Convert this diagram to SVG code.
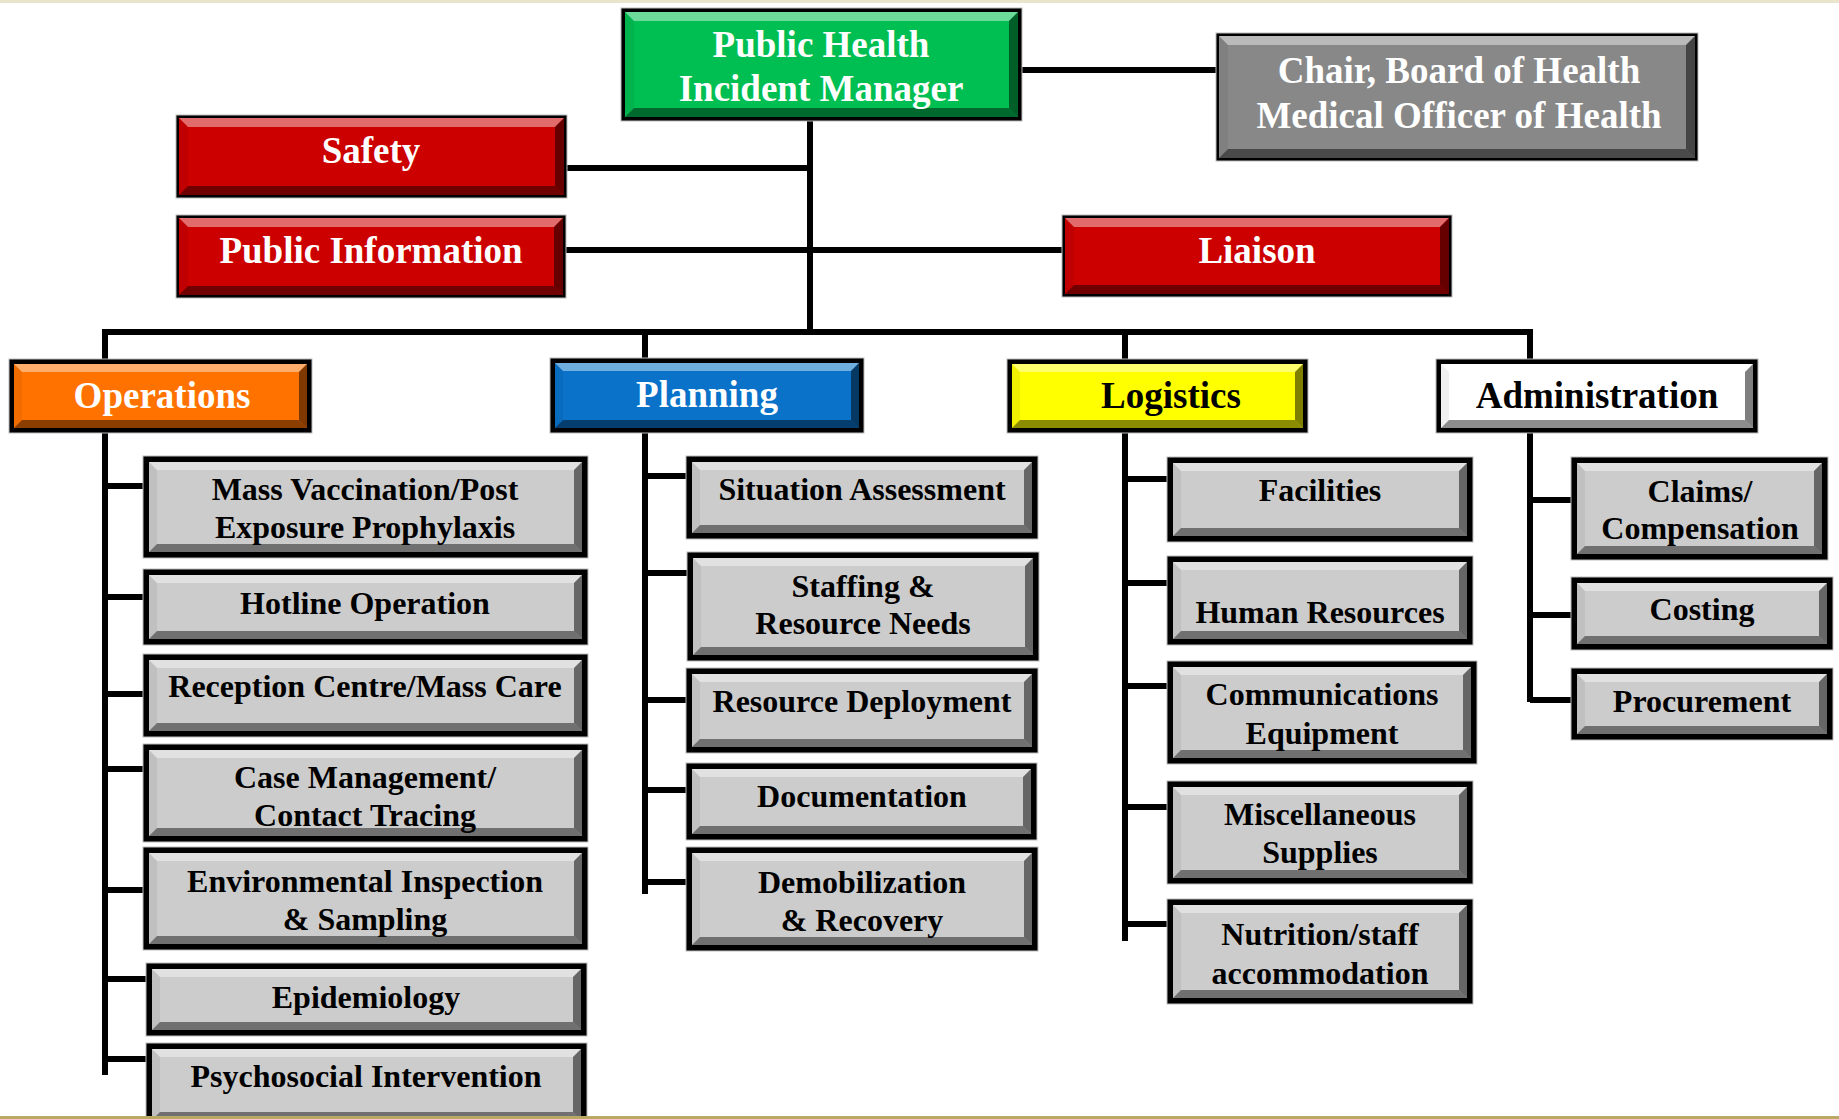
<svg xmlns="http://www.w3.org/2000/svg" width="1839" height="1119" viewBox="0 0 1839 1119">
<style>
.frame{fill:#000;stroke:#bdbdbd;stroke-width:1}
.hl{fill:#fff;fill-opacity:.42}
.sh{fill:#000;fill-opacity:.45}
.sr{fill:#000;fill-opacity:.5}
.sl{fill:#000;fill-opacity:.06}
.gray{fill:#cccccc}
.green{fill:#00bf52}
.red{fill:#cd0000}
.orange{fill:#ff7200}
.blue{fill:#0a72c9}
.yellow{fill:#ffff00}
.white{fill:#ffffff}
.chair{fill:#888888}
.t{font-family:"Liberation Serif","Times New Roman",serif;font-weight:bold;text-anchor:middle}
.h{font-size:37px;fill:#fff}
.hb{font-size:37px;fill:#000}
.c{font-size:32px;fill:#000}
.ln{fill:none;stroke:#000;stroke-width:6;stroke-linejoin:miter;stroke-linecap:butt}
</style>
<rect x="0" y="0" width="1839" height="1119" fill="#fff"/>
<rect x="0" y="0" width="1839" height="3" fill="#e9e4cc"/>

<g id="connectors">
<path class="ln" d="M1022,70 H1216"/>
<path class="ln" d="M567,168 H810"/>
<path class="ln" d="M566,250 H1062"/>
<path class="ln" d="M810,121 V332"/>
<path class="ln" d="M105,360 V332 H1530 V360"/>
<path class="ln" d="M645,332 V359"/>
<path class="ln" d="M1125,332 V360"/>
<path class="ln" d="M105,432 V1075"/>
<path class="ln" d="M105,486 H144 M105,597 H144 M105,694 H144 M105,769 H144 M105,890 H144 M105,979 H147 M105,1059 H147"/>
<path class="ln" d="M645,432 V894"/>
<path class="ln" d="M645,476 H687 M645,573 H688 M645,700 H687 M645,790 H687 M645,882 H687"/>
<path class="ln" d="M1125,432 V941"/>
<path class="ln" d="M1125,479 H1168 M1125,583 H1168 M1125,686 H1168 M1125,807 H1168 M1125,924 H1168"/>
<path class="ln" d="M1530,432 V702"/>
<path class="ln" d="M1530,500 H1572 M1530,615 H1572 M1530,700 H1572"/>
</g>

<g id="incident-manager">
<rect class="frame" x="621" y="8" width="401" height="113"/>
<rect class="green" x="625" y="12" width="393" height="105"/>
<polygon class="hl" points="625,12 1018,12 1009,21 634,21"/>
<polygon class="sh" points="625,117 1018,117 1009,108 634,108"/>
<polygon class="sl" points="625,12 634,21 634,108 625,117"/>
<polygon class="sr" points="1018,12 1009,21 1009,108 1018,117"/>
<text class="t h" x="821" y="57">Public Health</text>
<text class="t h" x="821" y="101">Incident Manager</text>
</g>

<g id="chair">
<rect class="frame" x="1216" y="33" width="482" height="128"/>
<rect class="chair" x="1219" y="36" width="476" height="122"/>
<polygon class="hl" points="1219,36 1695,36 1686,45 1228,45"/>
<polygon class="sh" points="1219,158 1695,158 1686,149 1228,149"/>
<polygon class="sl" points="1219,36 1228,45 1228,149 1219,158"/>
<polygon class="sr" points="1695,36 1686,45 1686,149 1695,158"/>
<text class="t h" x="1459" y="83">Chair, Board of Health</text>
<text class="t h" x="1459" y="128">Medical Officer of Health</text>
</g>

<g id="safety">
<rect class="frame" x="176" y="115" width="391" height="83"/>
<rect class="red" x="179" y="118" width="385" height="77"/>
<polygon class="hl" points="179,118 564,118 555,127 188,127"/>
<polygon class="sh" points="179,195 564,195 555,186 188,186"/>
<polygon class="sl" points="179,118 188,127 188,186 179,195"/>
<polygon class="sr" points="564,118 555,127 555,186 564,195"/>
<text class="t h" x="371" y="163">Safety</text>
</g>

<g id="public-information">
<rect class="frame" x="176" y="215" width="390" height="83"/>
<rect class="red" x="179" y="218" width="384" height="77"/>
<polygon class="hl" points="179,218 563,218 554,227 188,227"/>
<polygon class="sh" points="179,295 563,295 554,286 188,286"/>
<polygon class="sl" points="179,218 188,227 188,286 179,295"/>
<polygon class="sr" points="563,218 554,227 554,286 563,295"/>
<text class="t h" x="371" y="263">Public Information</text>
</g>

<g id="liaison">
<rect class="frame" x="1062" y="215" width="390" height="82"/>
<rect class="red" x="1065" y="218" width="384" height="76"/>
<polygon class="hl" points="1065,218 1449,218 1440,227 1074,227"/>
<polygon class="sh" points="1065,294 1449,294 1440,285 1074,285"/>
<polygon class="sl" points="1065,218 1074,227 1074,285 1065,294"/>
<polygon class="sr" points="1449,218 1440,227 1440,285 1449,294"/>
<text class="t h" x="1257" y="263">Liaison</text>
</g>

<g id="operations">
<rect class="frame" x="9" y="359" width="303" height="74"/>
<rect class="orange" x="14" y="364" width="293" height="64"/>
<polygon class="hl" points="14,364 307,364 299,372 22,372"/>
<polygon class="sh" points="14,428 307,428 299,420 22,420"/>
<polygon class="sl" points="14,364 22,372 22,420 14,428"/>
<polygon class="sr" points="307,364 299,372 299,420 307,428"/>
<text class="t h" x="162" y="408">Operations</text>
</g>

<g id="planning">
<rect class="frame" x="550" y="358" width="314" height="75"/>
<rect class="blue" x="555" y="363" width="304" height="65"/>
<polygon class="hl" points="555,363 859,363 851,371 563,371"/>
<polygon class="sh" points="555,428 859,428 851,420 563,420"/>
<polygon class="sl" points="555,363 563,371 563,420 555,428"/>
<polygon class="sr" points="859,363 851,371 851,420 859,428"/>
<text class="t h" x="707" y="407">Planning</text>
</g>

<g id="logistics">
<rect class="frame" x="1007" y="359" width="301" height="74"/>
<rect class="yellow" x="1012" y="364" width="291" height="64"/>
<polygon class="hl" points="1012,364 1303,364 1295,372 1020,372"/>
<polygon class="sh" points="1012,428 1303,428 1295,420 1020,420"/>
<polygon class="sl" points="1012,364 1020,372 1020,420 1012,428"/>
<polygon class="sr" points="1303,364 1295,372 1295,420 1303,428"/>
<text class="t hb" x="1171" y="408">Logistics</text>
</g>

<g id="administration">
<rect class="frame" x="1436" y="359" width="322" height="74"/>
<rect class="white" x="1441" y="364" width="312" height="64"/>
<polygon class="sh" points="1441,428 1753,428 1745,420 1449,420"/>
<polygon class="sl" points="1441,364 1449,372 1449,420 1441,428"/>
<polygon class="sr" points="1753,364 1745,372 1745,420 1753,428"/>
<text class="t hb" x="1597" y="408">Administration</text>
</g>

<g id="mass-vaccination">
<rect class="frame" x="143" y="456" width="445" height="102"/>
<rect class="gray" x="149" y="462" width="433" height="90"/>
<polygon class="hl" points="149,462 582,462 574,470 157,470"/>
<polygon class="sh" points="149,552 582,552 574,544 157,544"/>
<polygon class="sl" points="149,462 157,470 157,544 149,552"/>
<polygon class="sr" points="582,462 574,470 574,544 582,552"/>
<text class="t c" x="365" y="500">Mass Vaccination/Post</text>
<text class="t c" x="365" y="538">Exposure Prophylaxis</text>
</g>

<g id="hotline">
<rect class="frame" x="143" y="569" width="445" height="76"/>
<rect class="gray" x="149" y="575" width="433" height="64"/>
<polygon class="hl" points="149,575 582,575 574,583 157,583"/>
<polygon class="sh" points="149,639 582,639 574,631 157,631"/>
<polygon class="sl" points="149,575 157,583 157,631 149,639"/>
<polygon class="sr" points="582,575 574,583 574,631 582,639"/>
<text class="t c" x="365" y="614">Hotline Operation</text>
</g>

<g id="reception">
<rect class="frame" x="143" y="654" width="445" height="83"/>
<rect class="gray" x="149" y="660" width="433" height="71"/>
<polygon class="hl" points="149,660 582,660 574,668 157,668"/>
<polygon class="sh" points="149,731 582,731 574,723 157,723"/>
<polygon class="sl" points="149,660 157,668 157,723 149,731"/>
<polygon class="sr" points="582,660 574,668 574,723 582,731"/>
<text class="t c" x="365" y="697">Reception Centre/Mass Care</text>
</g>

<g id="case-management">
<rect class="frame" x="143" y="744" width="445" height="98"/>
<rect class="gray" x="149" y="750" width="433" height="86"/>
<polygon class="hl" points="149,750 582,750 574,758 157,758"/>
<polygon class="sh" points="149,836 582,836 574,828 157,828"/>
<polygon class="sl" points="149,750 157,758 157,828 149,836"/>
<polygon class="sr" points="582,750 574,758 574,828 582,836"/>
<text class="t c" x="365" y="788">Case Management/</text>
<text class="t c" x="365" y="826">Contact Tracing</text>
</g>

<g id="environmental">
<rect class="frame" x="143" y="847" width="445" height="103"/>
<rect class="gray" x="149" y="853" width="433" height="91"/>
<polygon class="hl" points="149,853 582,853 574,861 157,861"/>
<polygon class="sh" points="149,944 582,944 574,936 157,936"/>
<polygon class="sl" points="149,853 157,861 157,936 149,944"/>
<polygon class="sr" points="582,853 574,861 574,936 582,944"/>
<text class="t c" x="365" y="892">Environmental Inspection</text>
<text class="t c" x="365" y="930">&amp; Sampling</text>
</g>

<g id="epidemiology">
<rect class="frame" x="146" y="963" width="441" height="73"/>
<rect class="gray" x="152" y="969" width="429" height="61"/>
<polygon class="hl" points="152,969 581,969 573,977 160,977"/>
<polygon class="sh" points="152,1030 581,1030 573,1022 160,1022"/>
<polygon class="sl" points="152,969 160,977 160,1022 152,1030"/>
<polygon class="sr" points="581,969 573,977 573,1022 581,1030"/>
<text class="t c" x="366" y="1008">Epidemiology</text>
</g>

<g id="psychosocial">
<rect class="frame" x="146" y="1043" width="441" height="82"/>
<rect class="gray" x="152" y="1049" width="429" height="71"/>
<polygon class="hl" points="152,1049 581,1049 573,1057 160,1057"/>
<polygon class="sh" points="152,1120 581,1120 573,1112 160,1112"/>
<polygon class="sl" points="152,1049 160,1057 160,1112 152,1120"/>
<polygon class="sr" points="581,1049 573,1057 573,1112 581,1120"/>
<text class="t c" x="366" y="1087">Psychosocial Intervention</text>
</g>

<g id="situation">
<rect class="frame" x="686" y="456" width="352" height="83"/>
<rect class="gray" x="692" y="462" width="340" height="71"/>
<polygon class="hl" points="692,462 1032,462 1024,470 700,470"/>
<polygon class="sh" points="692,533 1032,533 1024,525 700,525"/>
<polygon class="sl" points="692,462 700,470 700,525 692,533"/>
<polygon class="sr" points="1032,462 1024,470 1024,525 1032,533"/>
<text class="t c" x="862" y="500">Situation Assessment</text>
</g>

<g id="staffing">
<rect class="frame" x="687" y="552" width="352" height="109"/>
<rect class="gray" x="693" y="558" width="340" height="97"/>
<polygon class="hl" points="693,558 1033,558 1025,566 701,566"/>
<polygon class="sh" points="693,655 1033,655 1025,647 701,647"/>
<polygon class="sl" points="693,558 701,566 701,647 693,655"/>
<polygon class="sr" points="1033,558 1025,566 1025,647 1033,655"/>
<text class="t c" x="863" y="597">Staffing &amp;</text>
<text class="t c" x="863" y="634">Resource Needs</text>
</g>

<g id="resource-deployment">
<rect class="frame" x="686" y="668" width="352" height="85"/>
<rect class="gray" x="692" y="674" width="340" height="73"/>
<polygon class="hl" points="692,674 1032,674 1024,682 700,682"/>
<polygon class="sh" points="692,747 1032,747 1024,739 700,739"/>
<polygon class="sl" points="692,674 700,682 700,739 692,747"/>
<polygon class="sr" points="1032,674 1024,682 1024,739 1032,747"/>
<text class="t c" x="862" y="712">Resource Deployment</text>
</g>

<g id="documentation">
<rect class="frame" x="686" y="763" width="351" height="77"/>
<rect class="gray" x="692" y="769" width="339" height="65"/>
<polygon class="hl" points="692,769 1031,769 1023,777 700,777"/>
<polygon class="sh" points="692,834 1031,834 1023,826 700,826"/>
<polygon class="sl" points="692,769 700,777 700,826 692,834"/>
<polygon class="sr" points="1031,769 1023,777 1023,826 1031,834"/>
<text class="t c" x="862" y="807">Documentation</text>
</g>

<g id="demobilization">
<rect class="frame" x="686" y="847" width="352" height="104"/>
<rect class="gray" x="692" y="853" width="340" height="92"/>
<polygon class="hl" points="692,853 1032,853 1024,861 700,861"/>
<polygon class="sh" points="692,945 1032,945 1024,937 700,937"/>
<polygon class="sl" points="692,853 700,861 700,937 692,945"/>
<polygon class="sr" points="1032,853 1024,861 1024,937 1032,945"/>
<text class="t c" x="862" y="893">Demobilization</text>
<text class="t c" x="862" y="931">&amp; Recovery</text>
</g>

<g id="facilities">
<rect class="frame" x="1167" y="457" width="306" height="85"/>
<rect class="gray" x="1173" y="463" width="294" height="73"/>
<polygon class="hl" points="1173,463 1467,463 1459,471 1181,471"/>
<polygon class="sh" points="1173,536 1467,536 1459,528 1181,528"/>
<polygon class="sl" points="1173,463 1181,471 1181,528 1173,536"/>
<polygon class="sr" points="1467,463 1459,471 1459,528 1467,536"/>
<text class="t c" x="1320" y="501">Facilities</text>
</g>

<g id="human-resources">
<rect class="frame" x="1167" y="556" width="306" height="89"/>
<rect class="gray" x="1173" y="562" width="294" height="77"/>
<polygon class="hl" points="1173,562 1467,562 1459,570 1181,570"/>
<polygon class="sh" points="1173,639 1467,639 1459,631 1181,631"/>
<polygon class="sl" points="1173,562 1181,570 1181,631 1173,639"/>
<polygon class="sr" points="1467,562 1459,570 1459,631 1467,639"/>
<text class="t c" x="1320" y="623">Human Resources</text>
</g>

<g id="communications">
<rect class="frame" x="1167" y="661" width="310" height="103"/>
<rect class="gray" x="1173" y="667" width="298" height="91"/>
<polygon class="hl" points="1173,667 1471,667 1463,675 1181,675"/>
<polygon class="sh" points="1173,758 1471,758 1463,750 1181,750"/>
<polygon class="sl" points="1173,667 1181,675 1181,750 1173,758"/>
<polygon class="sr" points="1471,667 1463,675 1463,750 1471,758"/>
<text class="t c" x="1322" y="705">Communications</text>
<text class="t c" x="1322" y="744">Equipment</text>
</g>

<g id="miscellaneous">
<rect class="frame" x="1167" y="781" width="306" height="103"/>
<rect class="gray" x="1173" y="787" width="294" height="91"/>
<polygon class="hl" points="1173,787 1467,787 1459,795 1181,795"/>
<polygon class="sh" points="1173,878 1467,878 1459,870 1181,870"/>
<polygon class="sl" points="1173,787 1181,795 1181,870 1173,878"/>
<polygon class="sr" points="1467,787 1459,795 1459,870 1467,878"/>
<text class="t c" x="1320" y="825">Miscellaneous</text>
<text class="t c" x="1320" y="863">Supplies</text>
</g>

<g id="nutrition">
<rect class="frame" x="1167" y="899" width="306" height="105"/>
<rect class="gray" x="1173" y="905" width="294" height="93"/>
<polygon class="hl" points="1173,905 1467,905 1459,913 1181,913"/>
<polygon class="sh" points="1173,998 1467,998 1459,990 1181,990"/>
<polygon class="sl" points="1173,905 1181,913 1181,990 1173,998"/>
<polygon class="sr" points="1467,905 1459,913 1459,990 1467,998"/>
<text class="t c" x="1320" y="945">Nutrition/staff</text>
<text class="t c" x="1320" y="984">accommodation</text>
</g>

<g id="claims">
<rect class="frame" x="1571" y="457" width="257" height="103"/>
<rect class="gray" x="1577" y="463" width="245" height="91"/>
<polygon class="hl" points="1577,463 1822,463 1814,471 1585,471"/>
<polygon class="sh" points="1577,554 1822,554 1814,546 1585,546"/>
<polygon class="sl" points="1577,463 1585,471 1585,546 1577,554"/>
<polygon class="sr" points="1822,463 1814,471 1814,546 1822,554"/>
<text class="t c" x="1700" y="502">Claims/</text>
<text class="t c" x="1700" y="539">Compensation</text>
</g>

<g id="costing">
<rect class="frame" x="1571" y="577" width="262" height="73"/>
<rect class="gray" x="1577" y="583" width="250" height="61"/>
<polygon class="hl" points="1577,583 1827,583 1819,591 1585,591"/>
<polygon class="sh" points="1577,644 1827,644 1819,636 1585,636"/>
<polygon class="sl" points="1577,583 1585,591 1585,636 1577,644"/>
<polygon class="sr" points="1827,583 1819,591 1819,636 1827,644"/>
<text class="t c" x="1702" y="620">Costing</text>
</g>

<g id="procurement">
<rect class="frame" x="1571" y="668" width="262" height="72"/>
<rect class="gray" x="1577" y="674" width="250" height="60"/>
<polygon class="hl" points="1577,674 1827,674 1819,682 1585,682"/>
<polygon class="sh" points="1577,734 1827,734 1819,726 1585,726"/>
<polygon class="sl" points="1577,674 1585,682 1585,726 1577,734"/>
<polygon class="sr" points="1827,674 1819,682 1819,726 1827,734"/>
<text class="t c" x="1702" y="712">Procurement</text>
</g>

<rect x="0" y="1116" width="1839" height="3" fill="#b8aa66"/>
</svg>
